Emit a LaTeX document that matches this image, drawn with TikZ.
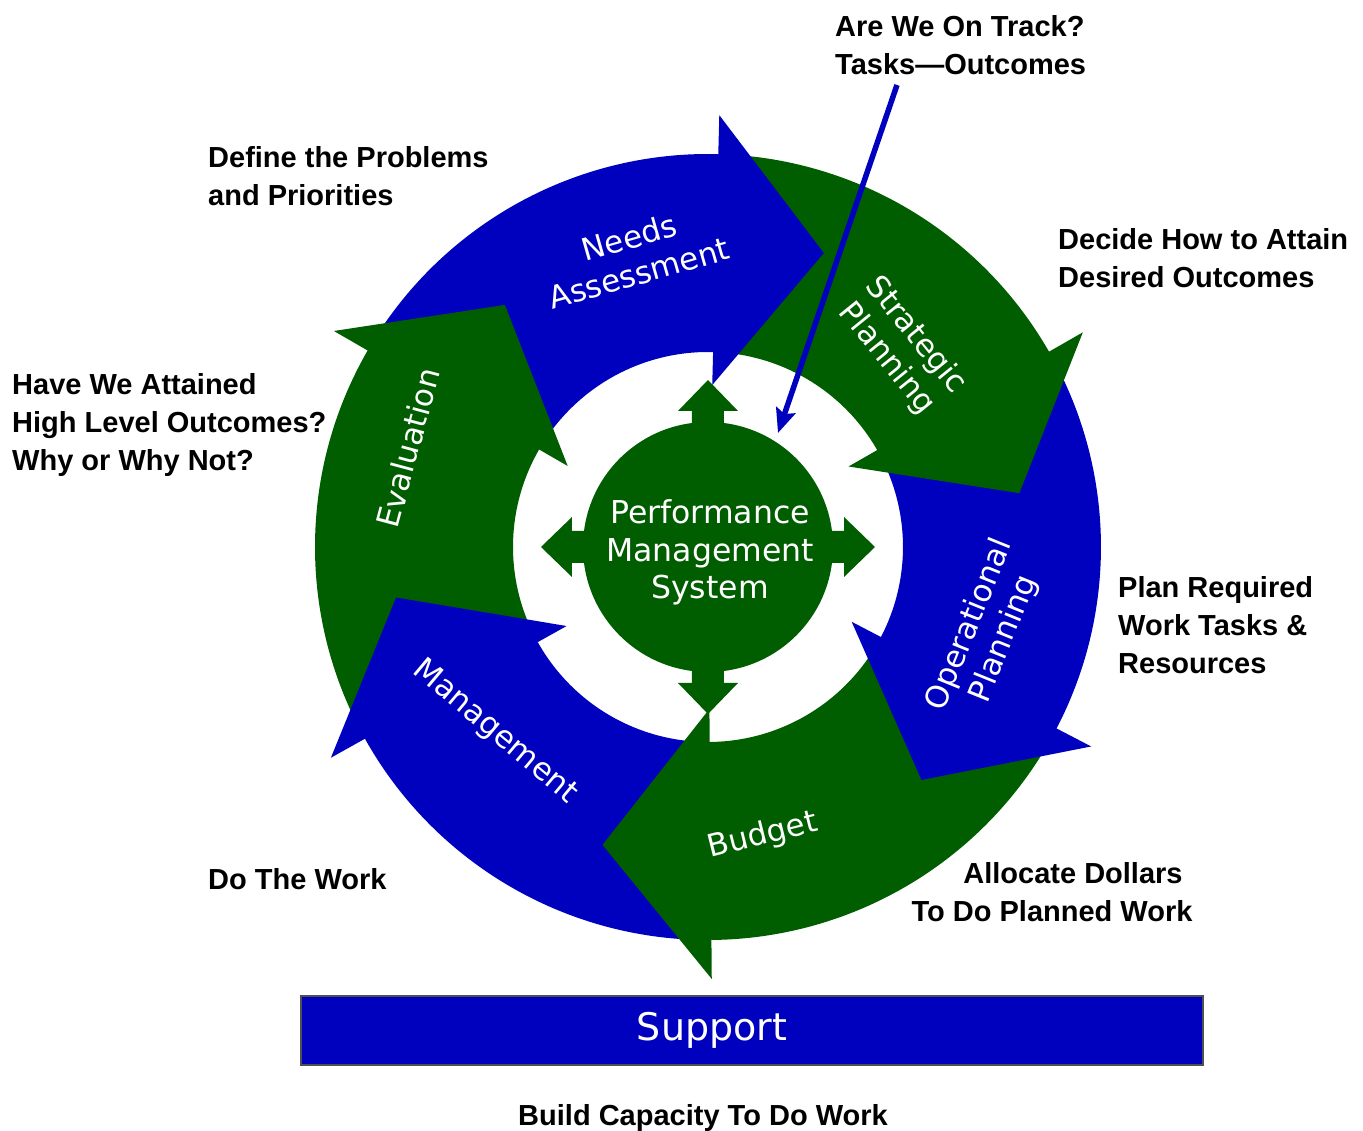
\documentclass[tikz,border=0pt]{standalone}
\usepackage{fontspec}
\setmainfont{Liberation Sans}
\newfontfamily\vfont{DejaVu Sans}
\usetikzlibrary{arrows.meta}
\definecolor{cblue}{RGB}{0,0,191}
\definecolor{cgreen}{RGB}{0,94,0}
\definecolor{cedge}{RGB}{80,80,80}
\newcommand\cycseg[3]{\fill[#3] (#1:393) arc[start angle=#1, end angle=#2, radius=393] -- (#2:195) arc[start angle=#2, end angle=#1, radius=195] -- cycle;}
\newcommand\cychead[2]{\fill[#2] (#1:432) -- ({#1-20}:316) -- (#1:162) -- (#1:196) -- ({#1+1.5}:196) -- ({#1+1.5}:392) -- (#1:392) -- cycle;}
\begin{document}
\begin{tikzpicture}[x=1pt,y=1pt,
  lbl/.style={font=\fontsize{29}{38}\selectfont\bfseries, align=left, anchor=west, inner sep=0pt, text=black},
  ringtxt/.style={font=\vfont\fontsize{31}{37}\selectfont, text=white, align=center, inner sep=0pt},
  annot/.style={draw=cblue, line width=5.5pt, -{Stealth[length=24pt,width=20pt,inset=4pt]}}]
\useasboundingbox (-708,-584) rectangle (655,547);
% ring shafts
\cycseg{150}{88.5}{cblue}
\cycseg{88.5}{29.8}{cgreen}
\cycseg{29.8}{-27.5}{cblue}
\cycseg{-27.5}{-89.5}{cgreen}
\cycseg{-89.5}{-150.8}{cblue}
\cycseg{-150.8}{-210}{cgreen}
% arrowheads
\cychead{150}{cgreen}
\cychead{88.5}{cblue}
\cychead{29.8}{cgreen}
\cychead{-27.5}{cblue}
\cychead{-89.5}{cgreen}
\cychead{-150.8}{cblue}
% centre
\fill[cgreen] (0,0) circle[radius=125];
\foreach \a in {0,90,180,270}
  \fill[cgreen, rotate=\a] (118,-16) -- (136,-16) -- (136,-30) -- (167,0) -- (136,30) -- (136,16) -- (118,16) -- cycle;
\node[ringtxt, font=\vfont\fontsize{31.5}{37.5}\selectfont] (pms) at (2,-5.5) {Performance\\Management\\System};
% ring labels
\node[ringtxt, rotate=16] (needs) at (-74,292) {Needs\\Assessment};
\node[ringtxt, rotate=-51] (strat) at (193,200) {Strategic\\Planning};
\node[ringtxt, rotate=68] (oper) at (279,-85) {Operational\\Planning};
\node[ringtxt, rotate=14] (budget) at (55,-289) {Budget};
\node[ringtxt, rotate=-40] (mgmt) at (-213,-185) {Management};
\node[ringtxt, rotate=75] (eval) at (-300,99) {Evaluation};
% support bar
\node[draw=cedge, line width=1.5pt, fill=cblue, minimum width=902pt, minimum height=69pt, inner sep=0pt] (supportbox) at (44,-483.5) {};
\node[inner sep=0pt, text=white, font=\vfont\fontsize{38}{44}\selectfont] (supporttxt) at (4,-483) {Support};
% black labels
\node[lbl] (track) at (127,502) {Are We On Track?\\Tasks—Outcomes};
\node[lbl] (define) at (-500,371) {Define the Problems\\and Priorities};
\node[lbl] (decide) at (350,288.5) {Decide How to Attain\\Desired Outcomes};
\node[lbl] (attained) at (-696,122) {Have We Attained\\High Level Outcomes?\\Why or Why Not?};
\node[lbl] (planreq) at (410,-78) {Plan Required\\Work Tasks \&\\Resources};
\node[lbl] (dowork) at (-500,-332) {Do The Work};
\node[lbl, anchor=center, align=center] (allocate) at (344,-345) {\hspace*{42pt}Allocate Dollars\\To Do Planned Work};
\node[lbl, anchor=center, align=center] (capacity) at (-5,-571) {Build Capacity To Do Work};
% annotation arrow
\coordinate (trackfrom) at (189,462);
\coordinate (trackto) at (70,114);
\draw[annot] (trackfrom) -- (trackto);
\end{tikzpicture}
\end{document}
